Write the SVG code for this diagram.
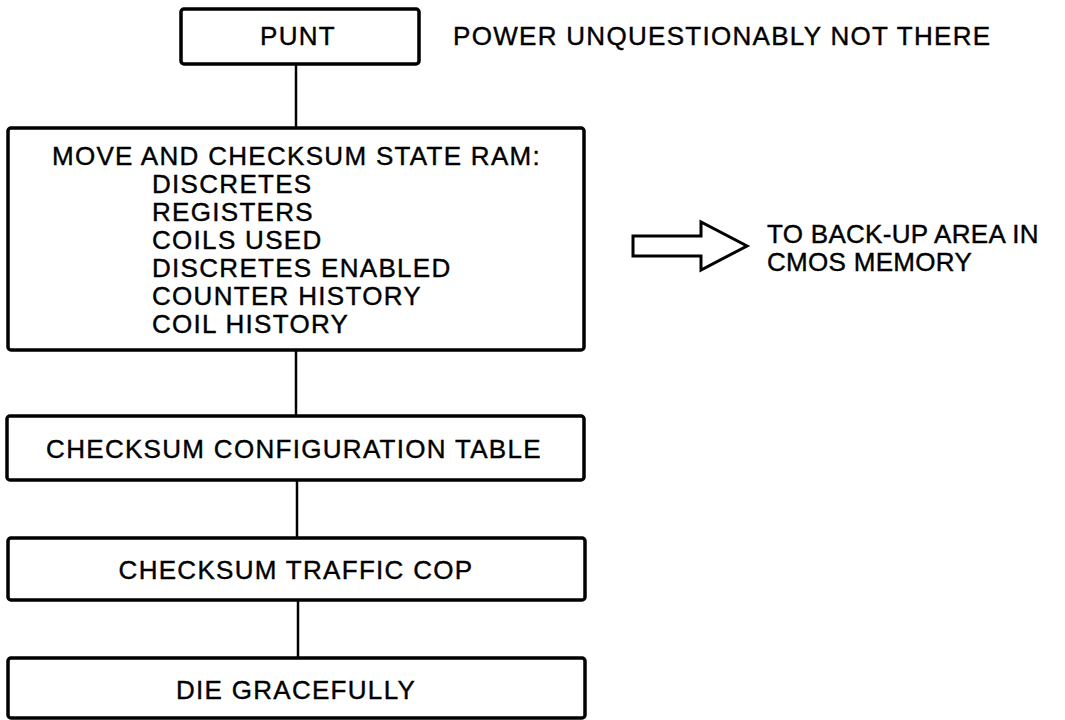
<svg xmlns="http://www.w3.org/2000/svg" width="1065" height="720" viewBox="0 0 1065 720">
<style>
.box{fill:#fff;stroke:#000;stroke-width:3.5}
.t{font-family:"Liberation Sans",Arial,sans-serif;font-size:26px;letter-spacing:1.3px;fill:#000;stroke:#000;stroke-width:0.4}
.c{text-anchor:middle}
.n{letter-spacing:0.3px}
.ln{stroke:#000;stroke-width:2.5;fill:none}
</style>
<rect width="1065" height="720" fill="#fff"/>
<g id="connectors">
<line class="ln" x1="296" y1="64" x2="296" y2="128"/>
<line class="ln" x1="296" y1="350" x2="296" y2="416"/>
<line class="ln" x1="297" y1="480" x2="297" y2="538"/>
<line class="ln" x1="298" y1="600" x2="298" y2="658"/>
</g>
<g id="punt">
<rect class="box" x="181" y="9" width="238" height="55" rx="3"/>
<text class="t c" x="298" y="45">PUNT</text>
</g>
<g id="punt-note">
<text class="t" x="453" y="45">POWER UNQUESTIONABLY NOT THERE</text>
</g>
<g id="move">
<rect class="box" x="8" y="128" width="576" height="222" rx="3"/>
<text class="t" x="52" y="165">MOVE AND CHECKSUM STATE RAM:</text>
<text class="t" x="152" y="193">DISCRETES</text>
<text class="t" x="152" y="221">REGISTERS</text>
<text class="t" x="152" y="249">COILS USED</text>
<text class="t" x="152" y="277">DISCRETES ENABLED</text>
<text class="t" x="152" y="305">COUNTER HISTORY</text>
<text class="t" x="152" y="333">COIL HISTORY</text>
</g>
<g id="backup">
<path d="M633,236 L701,236 L701,222 L747,246 L701,270 L701,256 L633,256 Z" fill="#fff" stroke="#000" stroke-width="3" stroke-linejoin="miter"/>
<text class="t n" x="767" y="243">TO BACK-UP AREA IN</text>
<text class="t n" x="767" y="271">CMOS MEMORY</text>
</g>
<g id="config">
<rect class="box" x="7" y="416" width="577" height="64" rx="3"/>
<text class="t c" x="294" y="458">CHECKSUM CONFIGURATION TABLE</text>
</g>
<g id="traffic">
<rect class="box" x="8" y="538" width="577" height="62" rx="3"/>
<text class="t c" x="296" y="579">CHECKSUM TRAFFIC COP</text>
</g>
<g id="die">
<rect class="box" x="8" y="658" width="577" height="60" rx="3"/>
<text class="t c" x="296" y="699">DIE GRACEFULLY</text>
</g>
</svg>
